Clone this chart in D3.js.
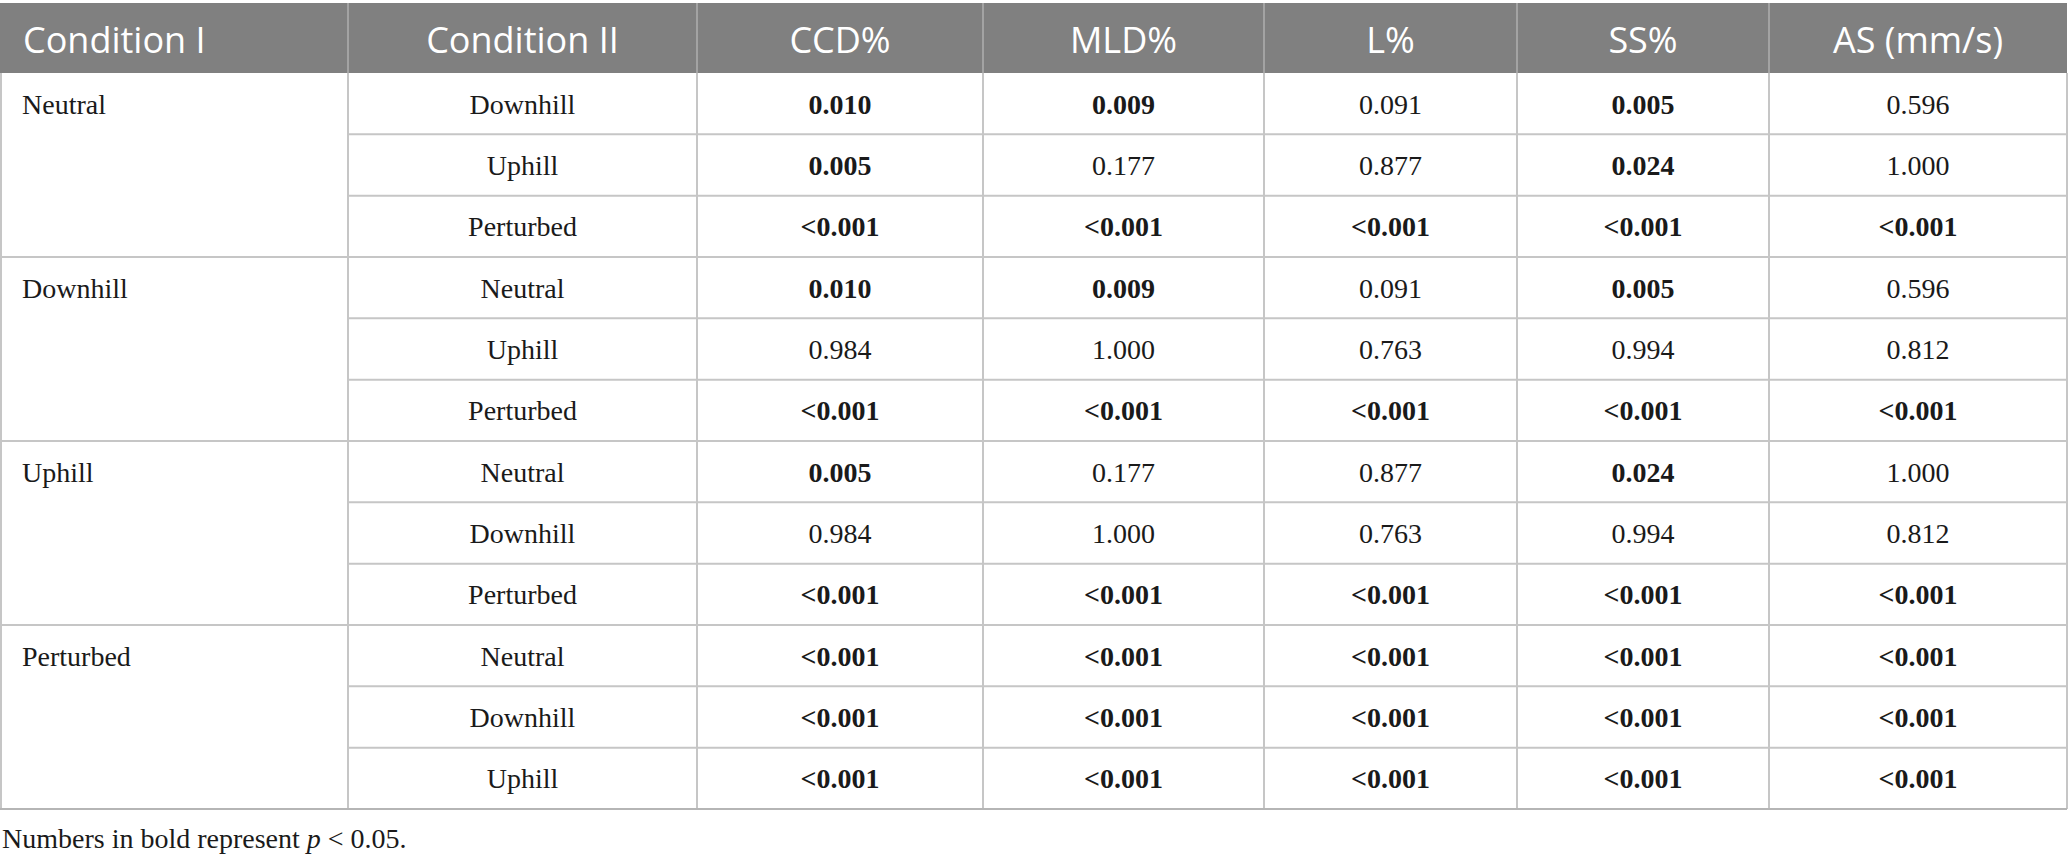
<!DOCTYPE html>
<html>
<head>
<meta charset="utf-8">
<script src="https://cdn.jsdelivr.net/npm/d3@7"></script>
<style>
  body { margin: 0; background: #fff; }
</style>
</head>
<body>
<svg class="table" width="2068" height="861"></svg>
<script>
  // table content
  var headers = ["Condition I", "Condition II", "CCD%", "MLD%", "L%", "SS%", "AS (mm/s)"]
  var conditionI = ["Neutral", "Downhill", "Uphill", "Perturbed"]
  var conditionII = [
    ["Downhill", "Uphill", "Perturbed"],
    ["Neutral", "Uphill", "Perturbed"],
    ["Neutral", "Downhill", "Perturbed"],
    ["Neutral", "Downhill", "Uphill"]
  ]
  var ccd = ["0.010", "0.005", "<0.001", "0.010", "0.984", "<0.001", "0.005", "0.984", "<0.001", "<0.001", "<0.001", "<0.001"]
  var mld = ["0.009", "0.177", "<0.001", "0.009", "1.000", "<0.001", "0.177", "1.000", "<0.001", "<0.001", "<0.001", "<0.001"]
  var lpct = ["0.091", "0.877", "<0.001", "0.091", "0.763", "<0.001", "0.877", "0.763", "<0.001", "<0.001", "<0.001", "<0.001"]
  var ss = ["0.005", "0.024", "<0.001", "0.005", "0.994", "<0.001", "0.024", "0.994", "<0.001", "<0.001", "<0.001", "<0.001"]
  var as = ["0.596", "1.000", "<0.001", "0.596", "0.812", "<0.001", "1.000", "0.812", "<0.001", "<0.001", "<0.001", "<0.001"]
  var footnote = "Numbers in bold represent "

  var width = 2068
  var colEdges = [0, 348, 697, 983, 1264, 1517, 1769, 2067]
  var headerTop = 3, headerBottom = 73, tableBottom = 809
  var lineColor = "#c6c6c6"
  var textColor = "#1a1a1a"

  const svg = d3.select("svg.table")
  var rowCount = conditionII.flat().length
  const rowScale = d3.scaleBand().domain(d3.range(rowCount)).range([headerBottom, tableBottom])
  const colScale = d3.scaleOrdinal().domain(d3.range(headers.length)).range(colEdges.slice(0, -1))
  const colWidth = i => colEdges[i + 1] - colEdges[i]
  const colMid = i => colScale(i) + colWidth(i) / 2

  // header band
  svg.append("rect")
    .attr("x", 0).attr("y", headerTop)
    .attr("width", colEdges[colEdges.length - 1]).attr("height", headerBottom - headerTop)
    .attr("fill", "#808080")

  // vertical lines in header (lighter)
  colEdges.slice(1, -1).forEach(x => {
    svg.append("line")
      .attr("x1", x).attr("x2", x).attr("y1", headerTop).attr("y2", headerBottom)
      .attr("stroke", "#a3a3a3").attr("stroke-width", 2)
  })

  svg.selectAll("text.head")
    .data(headers)
    .enter().append("text")
    .attr("class", "head")
    .attr("x", (d, i) => i == 0 ? 23 : colMid(i))
    .attr("y", 53)
    .attr("text-anchor", (d, i) => i == 0 ? "start" : "middle")
    .attr("fill", "#ffffff")
    .style("font-family", "'Open Sans', sans-serif")
    .style("font-size", "36px")
    .text(d => d)

  // rows
  var rows = []
  conditionII.forEach((group, g) => {
    group.forEach((c2, k) => {
      rows.push({ group: g, first: k == 0, c2: c2 })
    })
  })
  var valueCols = [ccd, mld, lpct, ss, as]
  const isBold = v => v.startsWith("<") || parseFloat(v) < 0.05

  // horizontal lines
  rows.forEach((r, i) => {
    if (i == 0) return
    svg.append("line")
      .attr("x1", r.first ? 0 : colEdges[1])
      .attr("x2", colEdges[colEdges.length - 1])
      .attr("y1", rowScale(i)).attr("y2", rowScale(i))
      .attr("stroke", lineColor).attr("stroke-width", 2)
  })

  // vertical lines in body
  colEdges.forEach(x => {
    svg.append("line")
      .attr("x1", x == 0 ? 1 : x).attr("x2", x == 0 ? 1 : x)
      .attr("y1", headerBottom).attr("y2", tableBottom)
      .attr("stroke", lineColor).attr("stroke-width", 2)
  })
  // bottom border
  svg.append("line")
    .attr("x1", 0).attr("x2", colEdges[colEdges.length - 1])
    .attr("y1", tableBottom).attr("y2", tableBottom)
    .attr("stroke", "#b5b5b5").attr("stroke-width", 2)

  var baseOff = rowScale.bandwidth() / 2 + 10

  rows.forEach((r, i) => {
    var y = rowScale(i) + baseOff
    if (r.first) {
      svg.append("text")
        .attr("x", 22).attr("y", y)
        .attr("fill", textColor)
        .style("font-family", "'Liberation Serif', serif")
        .style("font-size", "28px")
        .text(conditionI[r.group])
    }
    svg.append("text")
      .attr("x", colMid(1)).attr("y", y)
      .attr("text-anchor", "middle")
      .attr("fill", textColor)
      .style("font-family", "'Liberation Serif', serif")
      .style("font-size", "28px")
      .text(r.c2)
    valueCols.forEach((col, c) => {
      var v = col[i]
      svg.append("text")
        .attr("x", colMid(c + 2)).attr("y", y)
        .attr("text-anchor", "middle")
        .attr("fill", textColor)
        .style("font-family", "'Liberation Serif', serif")
        .style("font-size", "28px")
        .style("font-weight", isBold(v) ? "bold" : "normal")
        .text(v)
    })
  })

  // footnote
  var fn = svg.append("text")
    .attr("x", 2).attr("y", 848)
    .attr("fill", textColor)
    .style("font-family", "'Liberation Serif', serif")
    .style("font-size", "28px")
  fn.append("tspan").text(footnote)
  fn.append("tspan").style("font-style", "italic").text("p")
  fn.append("tspan").text(" < 0.05.")
</script>
</body>
</html>
